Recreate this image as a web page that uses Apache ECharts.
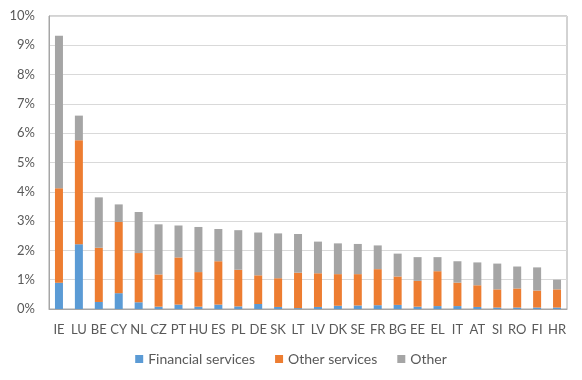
<!DOCTYPE html>
<html><head><meta charset="utf-8">
<script src="https://cdn.jsdelivr.net/npm/echarts@6/dist/echarts.min.js"></script>
<style>html,body{margin:0;padding:0;background:#fff}#c{width:582px;height:380px}</style>
</head><body><div id="c"></div>
<script>
const categories = ['IE','LU','BE','CY','NL','CZ','PT','HU','ES','PL','DE','SK','LT','LV','DK','SE','FR','BG','EE','EL','IT','AT','SI','RO','FI','HR'];
const financialServices = [0.90,2.21,0.24,0.54,0.23,0.08,0.15,0.08,0.15,0.09,0.17,0.07,0.03,0.07,0.11,0.12,0.13,0.14,0.08,0.10,0.10,0.07,0.05,0.05,0.05,0.05];
const otherServices = [3.22,3.55,1.85,2.43,1.68,1.10,1.61,1.18,1.48,1.25,0.98,0.98,1.21,1.15,1.08,1.07,1.23,0.97,0.88,1.19,0.80,0.74,0.62,0.65,0.58,0.62];
const other = [5.21,0.84,1.72,0.60,1.40,1.71,1.09,1.54,1.10,1.35,1.46,1.53,1.32,1.08,1.05,1.03,0.81,0.78,0.81,0.48,0.73,0.78,0.88,0.75,0.79,0.33];
const seriesNames = ['Financial services','Other services','Other'];
const colors = ['#5B9BD5','#ED7D31','#A5A5A5'];
const font = 'Lato, "Open Sans", sans-serif';
const chart = echarts.init(document.getElementById('c'), null, {renderer:'canvas'});
const mk = (name, data, i) => ({name, type:'bar', stack:'s', data, barWidth:8, itemStyle:{color:colors[i]}});
chart.setOption({
  animation:false,
  textStyle:{fontFamily:font},
  grid:{left:49, right:15, top:16, bottom:71, show:true, borderColor:'#a6a6a6', borderWidth:1},
  legend:{bottom:9, left:'center', itemWidth:8, itemHeight:8, itemGap:20, icon:'rect',
    textStyle:{fontFamily:font, fontSize:14, color:'#595959'}, data:seriesNames},
  xAxis:{type:'category', data:categories, axisTick:{show:false},
    axisLine:{lineStyle:{color:'#a6a6a6'}},
    axisLabel:{color:'#595959', fontSize:13, fontFamily:font, margin:14, interval:0}},
  yAxis:{type:'value', min:0, max:10, interval:1,
    axisLine:{show:true, lineStyle:{color:'#a6a6a6'}},
    splitLine:{lineStyle:{color:'#d9d9d9'}},
    axisLabel:{color:'#595959', fontSize:13, fontFamily:font, margin:14, formatter:v=>v+'%'}},
  series:[mk(seriesNames[0],financialServices,0), mk(seriesNames[1],otherServices,1), mk(seriesNames[2],other,2)]
});
</script></body></html>
